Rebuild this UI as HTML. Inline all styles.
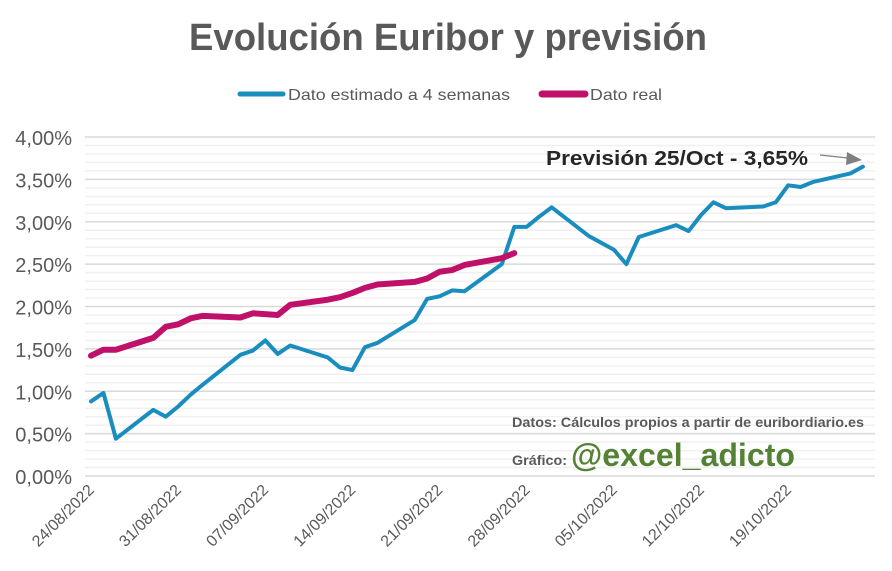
<!DOCTYPE html>
<html><head><meta charset="utf-8"><style>
body{margin:0;background:#fff}
svg{display:block;font-family:"Liberation Sans",sans-serif}
</style></head><body>
<svg id="chart" width="892" height="571" viewBox="0 0 892 571">
<rect width="892" height="571" fill="#fff"/>
<text x="448" y="50" text-anchor="middle" font-size="38" font-weight="bold" fill="#595959" textLength="518" lengthAdjust="spacingAndGlyphs">Evolución Euribor y previsión</text>
<g>
<line x1="240" y1="94" x2="283" y2="94" stroke="#1a8dbf" stroke-width="5" stroke-linecap="round"/>
<text x="288" y="100" font-size="16" fill="#595959" textLength="222" lengthAdjust="spacingAndGlyphs">Dato estimado a 4 semanas</text>
<line x1="542" y1="94" x2="585" y2="94" stroke="#c0116a" stroke-width="7" stroke-linecap="round"/>
<text x="590" y="100" font-size="16" fill="#595959" textLength="72" lengthAdjust="spacingAndGlyphs">Dato real</text>
</g>
<g id="grid"></g><g id="yticks"></g><g id="xticks"></g><g id="series"></g>
<text x="546" y="165" font-size="20" font-weight="bold" fill="#262626" textLength="262" lengthAdjust="spacingAndGlyphs">Previsión 25/Oct - 3,65%</text>
<line x1="820" y1="155" x2="848" y2="158" stroke="#808080" stroke-width="1.2"/>
<polygon points="847,152 862,160 846,165" fill="#808080"/>
<text x="512" y="427" font-size="14" font-weight="bold" fill="#595959" textLength="352" lengthAdjust="spacingAndGlyphs">Datos: Cálculos propios a partir de euribordiario.es</text>
<text x="512" y="465" font-size="14" font-weight="bold" fill="#595959" textLength="55" lengthAdjust="spacingAndGlyphs">Gráfico:</text>
<text x="571" y="466" font-size="32" font-weight="bold" fill="#548235" textLength="224" lengthAdjust="spacingAndGlyphs">@excel_adicto</text>
</svg>
<script>
const yTicks=[0,0.5,1,1.5,2,2.5,3,3.5,4];
const yTickLabels=["0,00%","0,50%","1,00%","1,50%","2,00%","2,50%","3,00%","3,50%","4,00%"];
const xTickDays=[0,7,14,21,28,35,42,49,56];
const xTickLabels=["24/08/2022","31/08/2022","07/09/2022","14/09/2022","21/09/2022","28/09/2022","05/10/2022","12/10/2022","19/10/2022"];
const estDays=[0,1,2,5,6,7,8,9,12,13,14,15,16,19,20,21,22,23,26,27,28,29,30,33,34,35,36,37,40,42,43,44,47,48,49,50,51,54,55,56,57,58,61,62];
const estValues=[0.88,0.98,0.44,0.78,0.70,0.82,0.96,1.08,1.43,1.48,1.60,1.44,1.54,1.40,1.28,1.25,1.52,1.57,1.84,2.09,2.12,2.19,2.18,2.50,2.94,2.94,3.06,3.17,2.83,2.67,2.50,2.82,2.96,2.89,3.08,3.23,3.16,3.18,3.23,3.43,3.41,3.47,3.57,3.65];
const realDays=[0,1,2,5,6,7,8,9,12,13,15,16,19,20,21,22,23,26,27,28,29,30,33,34];
const realValues=[1.42,1.49,1.49,1.63,1.76,1.79,1.86,1.89,1.87,1.92,1.90,2.02,2.08,2.11,2.16,2.22,2.26,2.29,2.33,2.41,2.43,2.49,2.57,2.63];
const NS="http://www.w3.org/2000/svg";
const X=d=>91+d*12.45, Y=v=>476-v*84.75;
function mk(t,a,p){const e=document.createElementNS(NS,t);for(const k in a)e.setAttribute(k,a[k]);p.appendChild(e);return e;}
const grid=document.getElementById('grid');
for(let i=0;i<=40;i++){
  const v=i/10;
  const major=i%5===0;
  const l=mk('line',{x1:85,x2:875,y1:Y(v),y2:Y(v),stroke:major?'#d9d9d9':'#f0f0f0','stroke-width':1.5},grid);
  
  
}
const yt=document.getElementById('yticks');
yTicks.forEach((v,i)=>{
  const t=mk('text',{x:72,y:Y(v)+8,'text-anchor':'end','font-size':20,fill:'#595959'},yt);
  t.textContent=yTickLabels[i];
  
  
});
const xt=document.getElementById('xticks');
xTickDays.forEach((d,i)=>{
  const x=X(d)+4,y=491;
  const t=mk('text',{x:x,y:y,'text-anchor':'end','font-size':16,fill:'#595959',transform:`rotate(-45 ${x} ${y})`},xt);
  t.textContent=xTickLabels[i];
  
  
});
const s=document.getElementById('series');
const pe=mk('polyline',{points:estDays.map((d,i)=>X(d)+','+Y(estValues[i])).join(' '),fill:'none',stroke:'#1a8dbf','stroke-width':4,'stroke-linejoin':'round','stroke-linecap':'round'},s);


const pr=mk('polyline',{points:realDays.map((d,i)=>X(d)+','+Y(realValues[i])).join(' '),fill:'none',stroke:'#c0116a','stroke-width':6,'stroke-linejoin':'round','stroke-linecap':'round'},s);


</script>
</body></html>
